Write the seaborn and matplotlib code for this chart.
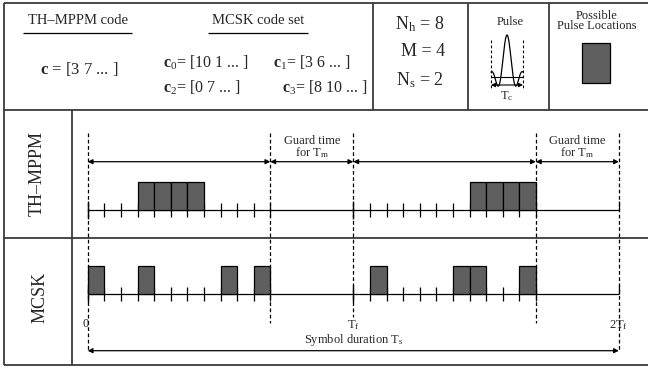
import numpy as np
import pandas as pd
import matplotlib
matplotlib.use("Agg")
import matplotlib.pyplot as plt
import seaborn as sns

# ---- system parameters and codes ----
N_h = 8                      # hops per frame
M = 4                        # modulation order
N_s = 2                      # frames per symbol
chips_per_frame = 16         # N_h + M - 1 active chips plus guard chips
th_code = [3, 7]             # TH-MPPM hopping code c
mcsk_names = ["c0", "c1", "c2", "c3"]
mcsk_codes = [[10, 1], [3, 6], [0, 7], [8, 10]]

active_chips = N_h + M - 1
frame_ticks = list(range(active_chips + 1))

sns.set_theme(style="white")
plt.rcParams["font.family"] = ["Liberation Serif", "DejaVu Serif"]
plt.rcParams["mathtext.fontset"] = "custom"
plt.rcParams["mathtext.rm"] = "Liberation Serif"
plt.rcParams["mathtext.it"] = "Liberation Serif:italic"
plt.rcParams["mathtext.bf"] = "Liberation Serif:bold"

W, H = 648, 371
fig = plt.figure(figsize=(W / 100, H / 100), dpi=100)
fig.patch.set_facecolor("white")

# layout axes in pixel units (y down)
ax = fig.add_axes([0, 0, 1, 1])
ax.set_xlim(0, W)
ax.set_ylim(H, 0)
ax.axis("off")

# timing axes: x in chips, y in pixel units
X0, CHIP = 87.7, 16.6
tax = fig.add_axes([0, 0, 1, 1])
tax.set_xlim((0 - X0) / CHIP, (W - X0) / CHIP)
tax.set_ylim(H, 0)
tax.axis("off")
tax.patch.set_alpha(0)

line_c = "#3a3a3a"
box_c = "#5f5f5f"

# ---- table frame ----
top, head_b, row_b, bot = 3, 109.5, 238, 364.5
ax.hlines([top, head_b, row_b, bot], 4, W, color=line_c, lw=1.3)
ax.vlines(4, top, bot, color=line_c, lw=1.3)
ax.vlines([373, 468, 549], top, head_b, color=line_c, lw=1.3)
ax.vlines(72.3, head_b, bot, color=line_c, lw=1.3)

# ---- header ----
ax.text(78, 20, "TH\u2013MPPM code", ha="center", va="center", fontsize=10.5)
ax.hlines(32.5, 23, 132, color="black", lw=0.9)
ax.text(258, 20, "MCSK code set", ha="center", va="center", fontsize=10.5)
ax.hlines(32.5, 208, 308, color="black", lw=0.9)

ax.text(79, 69, r"$\mathbf{c}$ = [" + " ".join(str(v) for v in th_code) + " ... ]",
        ha="center", va="center", fontsize=12)
code_pos = [(163, 63), (273, 63), (163, 88), (282, 88)]
for name, code, (px, py) in zip(mcsk_names, mcsk_codes, code_pos):
    ax.text(px, py, r"$\mathbf{c}_{" + name[1] + r"}$= [" + " ".join(str(v) for v in code) + " ... ]",
            ha="left", va="center", fontsize=11.5)

ax.text(420, 24, r"$\mathrm{N}_\mathrm{h}$ = %d" % N_h, ha="center", va="center", fontsize=13)
ax.text(423, 51, "M = %d" % M, ha="center", va="center", fontsize=13)
ax.text(420, 80, r"$\mathrm{N}_\mathrm{s}$ = %d" % N_s, ha="center", va="center", fontsize=13)

# pulse glyph
ax.text(510, 22, "Pulse", ha="center", va="center", fontsize=9)
t = np.linspace(-1, 1, 200)
pulse = pd.DataFrame({"x": 507 + 16 * t, "y": 77 - 42 * np.sinc(2.6 * t)})
sns.lineplot(data=pulse, x="x", y="y", ax=ax, color="black", lw=0.9, sort=False)
ax.hlines(77, 491, 523, color="black", lw=0.8)
ax.vlines([491, 523], 40, 90, color="black", lw=0.8, linestyles=(0, (2.5, 2)))
ax.annotate("", xy=(491, 85), xytext=(523, 85),
            arrowprops=dict(arrowstyle="<|-|>", color="black", lw=0.8,
                            mutation_scale=6, shrinkA=0, shrinkB=0))
ax.text(507, 96, r"$\mathrm{T}_\mathrm{c}$", ha="center", va="center", fontsize=9)

ax.text(597, 21, "Possible\nPulse Locations", ha="center", va="center",
        fontsize=9, linespacing=0.85)
ax.add_patch(plt.Rectangle((582, 43), 28, 40, facecolor=box_c, edgecolor="black", lw=0.9))

# row labels
ax.text(37, 174, "TH\u2013MPPM", rotation=90, ha="center", va="center", fontsize=13)
ax.text(40, 297, "MCSK", rotation=90, ha="center", va="center", fontsize=13)

# ---- timing rows ----
end_chip = N_s * chips_per_frame
th_base, mc_base = 210, 294
box_h = 28.5

pulses = []
for f in range(N_s):
    start = f * chips_per_frame + th_code[f]
    for m in range(M):
        pulses.append(("TH", start + m))
    for code in mcsk_codes:
        pulses.append(("MCSK", f * chips_per_frame + code[f]))
pulses = pd.DataFrame(pulses, columns=["row", "chip"])

for row, base in [("TH", th_base), ("MCSK", mc_base)]:
    tax.hlines(base, 0, end_chip, color="black", lw=0.9)
    ticks = [f * chips_per_frame + k for f in range(N_s) for k in frame_ticks]
    tax.vlines(ticks, base - 7, base + 7, color="black", lw=0.9)
    tax.vlines([0, chips_per_frame], base - 9, base + 9, color="black", lw=0.9)
    tax.vlines(end_chip, base - 9, base, color="black", lw=0.9)
    sub = pulses[pulses["row"] == row]
    tax.bar(sub["chip"], -box_h, bottom=base, width=1, align="edge",
            color=box_c, edgecolor="black", lw=0.9, zorder=3)

# frame / guard boundaries
bounds = [0, active_chips, chips_per_frame, chips_per_frame + active_chips, end_chip]
ends = [350, 323, 317, 323, 350]
for b, e in zip(bounds, ends):
    tax.vlines(b, 133, e, color="black", lw=0.9, linestyles=(0, (3, 2)), zorder=4)

arrow_kw = dict(arrowstyle="<|-|>", color="black", lw=0.9, mutation_scale=7,
                shrinkA=0, shrinkB=0)
for a, b in zip(bounds[:-1], bounds[1:]):
    tax.annotate("", xy=(a, 161.7), xytext=(b, 161.7), arrowprops=arrow_kw)

for f in range(N_s):
    gx = f * chips_per_frame + (active_chips + chips_per_frame) / 2
    tax.text(gx, 141, "Guard time", ha="center", va="center", fontsize=9)
    tax.text(gx, 153, r"for $\mathrm{T}_\mathrm{m}$", ha="center", va="center", fontsize=9)

tax.text(-0.1, 324, "0", ha="center", va="center", fontsize=9)
tax.text(chips_per_frame, 325, r"$\mathrm{T}_\mathrm{f}$", ha="center", va="center", fontsize=9)
tax.text(end_chip, 325, r"$\mathrm{2T}_\mathrm{f}$", ha="center", va="center", fontsize=9)

tax.annotate("", xy=(0, 350.7), xytext=(end_chip, 350.7), arrowprops=arrow_kw)
tax.text(chips_per_frame, 340, r"Symbol duration $\mathrm{T}_\mathrm{s}$",
         ha="center", va="center", fontsize=9)

fig.savefig("out.png", dpi=100, facecolor="white")
